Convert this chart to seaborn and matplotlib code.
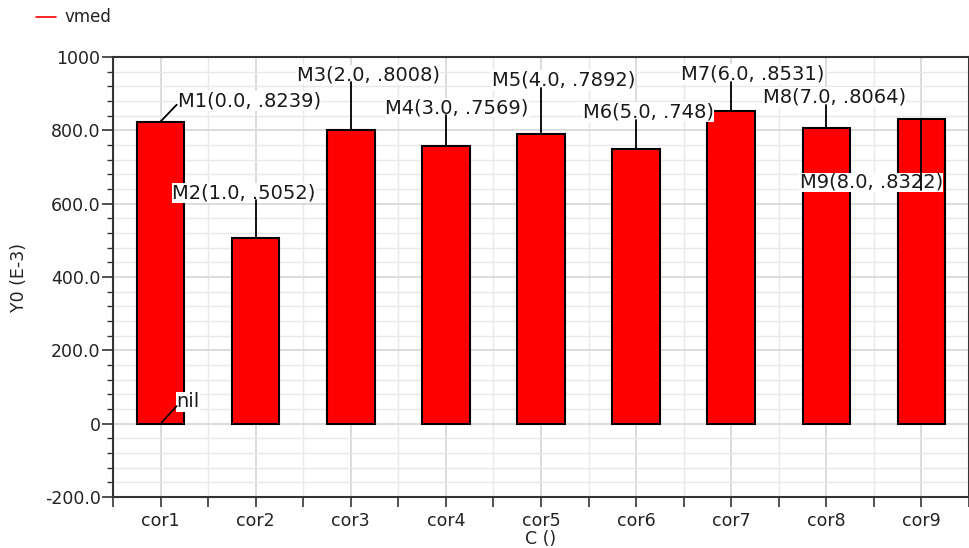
import matplotlib
matplotlib.use("Agg")
import matplotlib.pyplot as plt
import seaborn as sns
import pandas as pd
import numpy as np
from matplotlib.ticker import MultipleLocator, FuncFormatter, FixedLocator
from matplotlib.lines import Line2D

categories = ["cor1", "cor2", "cor3", "cor4", "cor5", "cor6", "cor7", "cor8", "cor9"]
vmed = [823.9, 505.2, 800.8, 756.9, 789.2, 748.0, 853.1, 806.4, 832.2]  # E-3
marker_labels = ["M1(0.0, .8239)", "M2(1.0, .5052)", "M3(2.0, .8008)", "M4(3.0, .7569)",
                 "M5(4.0, .7892)", "M6(5.0, .748)", "M7(6.0, .8531)", "M8(7.0, .8064)",
                 "M9(8.0, .8322)"]

# annotation layout: (text x, text y, line end x, line end y)
ann_layout = [
    (0.18, 880, 0.17, 870),
    (0.12, 630, 1.0, 610),
    (1.43, 952, 2.0, 932),
    (2.36, 862, 3.0, 842),
    (3.48, 937, 4.0, 915),
    (4.44, 850, 5.0, 828),
    (5.47, 953, 6.0, 932),
    (6.33, 890, 7.0, 869),
    (6.72, 658, 8.0, 637),
]

sns.set_theme(style="white")
plt.rcParams["font.family"] = ["DejaVu Sans"]

fig = plt.figure(figsize=(9.69, 5.48), dpi=100)
ax = fig.add_axes([113 / 969, 51 / 548, 856 / 969, 440 / 548])

df = pd.DataFrame({"C": categories, "vmed": vmed})
sns.barplot(data=df, x="C", y="vmed", color="#ff0000", saturation=1, width=0.5,
            edgecolor="black", linewidth=1.5, ax=ax, zorder=3)

ax.set_xlim(-0.5, 8.5)
ax.set_ylim(-200, 1000)

# grid
ax.yaxis.set_major_locator(MultipleLocator(200))
ax.yaxis.set_minor_locator(MultipleLocator(40))
ax.xaxis.set_minor_locator(FixedLocator(np.arange(-0.5, 9.0, 1.0)))
ax.grid(which="major", axis="both", color="#d6d6d6", lw=1.2, zorder=0)
ax.grid(which="minor", axis="both", color="#e8e8e8", lw=1.0, zorder=0)
ax.set_axisbelow(True)

def yfmt(v, pos):
    if abs(v) < 1e-9:
        return "0"
    if abs(v - 1000) < 1e-9:
        return "1000"
    return f"{v:.1f}"
ax.yaxis.set_major_formatter(FuncFormatter(yfmt))

ax.tick_params(axis="y", which="major", direction="out", length=8, width=1.2,
               color="#333333", labelsize=12.5, labelcolor="#222222", pad=1, left=True)
ax.tick_params(axis="y", which="minor", direction="out", length=4, width=1.0,
               color="#333333", left=True)
ax.tick_params(axis="x", which="both", direction="out", length=7, width=1.2,
               color="#333333", labelsize=12.5, labelcolor="#222222", pad=4, bottom=True)
for sp in ["left", "bottom", "top", "right"]:
    ax.spines[sp].set_color("#333333")
    ax.spines[sp].set_linewidth(1.5)

ax.set_xlabel("C ()", fontsize=12.5, labelpad=0, color="#222222")
ax.set_ylabel("Y0 (E-3)", fontsize=12.5, labelpad=12, color="#222222")

# marker annotations
for i, (lab, v) in enumerate(zip(marker_labels, vmed)):
    tx, ty, lx, ly = ann_layout[i]
    ax.text(tx, ty, lab, ha="left", va="center", fontsize=14, color="#1a1a1a",
            bbox=dict(facecolor="white", edgecolor="none", pad=0.3), zorder=5)
    ax.plot([i, lx], [v, ly], color="black", lw=1.3, zorder=6)

# nil marker
ax.text(0.17, 60, "nil", ha="left", va="center", fontsize=14, color="#1a1a1a",
        bbox=dict(facecolor="white", edgecolor="none", pad=0.3), zorder=5)
ax.plot([0, 0.17], [0, 48], color="black", lw=1.2, zorder=6)

# legend
handle = Line2D([0], [0], color="#ff0000", lw=1.2)
fig.legend([handle], ["vmed"], loc="upper left", bbox_to_anchor=(0.022, 1.012),
           frameon=False, fontsize=12, handlelength=1.2, handletextpad=0.5,
           labelcolor="#222222")

fig.savefig("out.png", dpi=100)
